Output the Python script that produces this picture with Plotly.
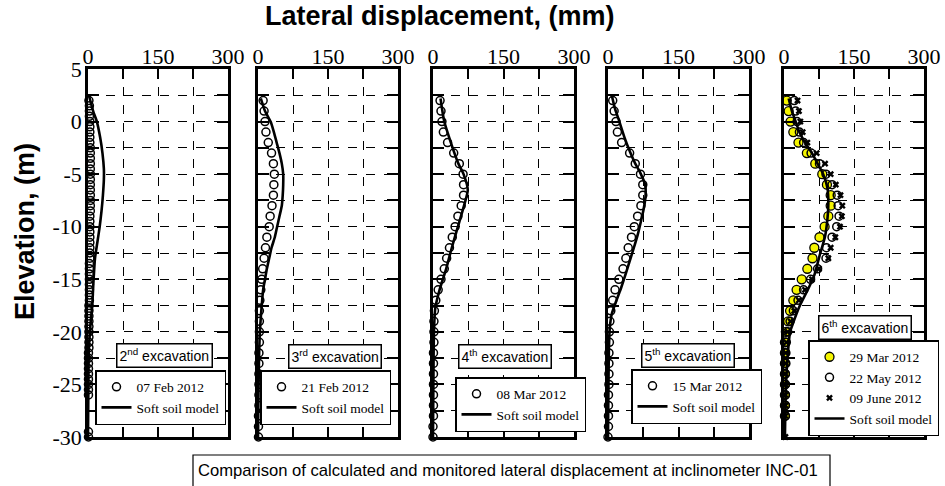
import plotly.graph_objects as go

W, H = 945, 486

# ---------------- tick labels ----------------
X_MAJOR = [0, 150, 300]
X_MAJOR_TEXT = ["0", "150", "300"]
X_MINOR = [75, 225]
Y_MAJOR = [5, 0, -5, -10, -15, -20, -25, -30]
Y_MAJOR_TEXT = ["5", "0", "-5", "-10", "-15", "-20", "-25", "-30"]
Y_MINOR = [2.5, -2.5, -7.5, -12.5, -17.5, -22.5, -27.5]

# ---------------- data ----------------
# 1 m spaced inclinometer depths (m)
elev_1m = [2, 1, 0, -1, -2, -3, -4, -5, -6, -7, -8, -9, -10, -11, -12, -13, -14,
           -15, -16, -17, -18, -19, -20, -21, -22, -23, -24, -25, -26, -27, -28, -29, -30]

# Panel 1: 2nd excavation (07 Feb 2012)
p1_elev = [2.0, 1.5, 1.0, 0.5, 0.0, -0.5, -1.0, -1.5, -2.0, -2.5,
           -3.0, -3.5, -4.0, -4.5, -5.0, -5.5, -6.0, -6.5, -7.0, -7.5,
           -8.0, -8.5, -9.0, -9.5, -10.0, -10.5, -11.0, -11.5, -12.0, -12.5,
           -13.0, -13.5, -14.0, -14.5, -15.0, -15.5, -16.0, -16.5, -17.0, -17.5,
           -18.0, -18.5, -19.0, -19.5, -20.0, -20.5, -21.0, -21.5, -22.0, -22.5,
           -23.0, -23.5, -24.0, -24.5, -25.0, -25.5, -26.0,
           -29.5, -30.0]
p1_meas = [2, 3, 3, 3, 4, 4, 4, 4, 4, 5,
           5, 5, 5, 5, 5, 5, 5, 5, 5, 5,
           5, 5, 4, 4, 4, 4, 4, 4, 4, 4,
           4, 3, 3, 3, 3, 3, 3, 3, 3, 2,
           2, 2, 2, 2, 2, 2, 2, 2, 1, 1,
           1, 1, 1, 1, 1, 1, 1,
           1, 1]
p1_model_elev = [2.5, 1.0, 0.0, -1.5, -3.0, -4.5, -5.5, -7.0, -8.5, -10.0, -11.5,
                 -13.0, -15.0, -17.5, -19.5, -21.5, -24.0, -30.0]
p1_model = [2, 11, 19, 26, 31, 34, 34, 32, 29, 25, 20, 15, 12, 9, 5, 2, 1, 0]

# Panel 2: 3rd excavation (21 Feb 2012)
p2_meas = [11, 13, 15, 17, 22, 29, 33, 35, 34, 33, 30, 26, 24, 19, 16, 13, 10,
           8, 6, 4, 3, 3, 3, 3, 2, 2, 2, 2, 2, 2, 1, 1, 1]
p2_model_elev = [2.2, 1, 0, -1, -2, -3, -4, -5, -6, -7, -8, -9, -10, -11, -12, -13,
                 -14, -15, -16, -17.5, -20, -23, -26, -30]
p2_model = [6, 15, 27, 34, 40, 46, 51, 54, 54, 53, 51, 46, 41, 36, 29, 24,
            19, 15, 11, 8, 4, 2, 1, 0]

# Panel 3: 4th excavation (08 Mar 2012)
p3_meas = [15, 17, 19, 22, 31, 44, 56, 64, 65, 65, 60, 53, 47, 41, 35, 29, 24,
           17, 11, 6, 3, 2, 2, 2, 1, 1, 1, 1, 1, 1, 1, 0, 0]
p3_model_elev = [2.2, 0, -2, -4, -5, -6.5, -8, -10, -12, -14, -16, -17.7, -20, -24, -30]
p3_model = [16, 24, 38, 54, 65, 74, 66, 53, 40, 28, 14, 5, 2, 1, 0]

# Panel 4: 5th excavation (15 Mar 2012)
p4_meas = [10, 13, 17, 20, 29, 46, 58, 69, 74, 74, 70, 63, 56, 50, 43, 38, 32,
           23, 15, 10, 6, 4, 3, 3, 2, 2, 2, 2, 1, 1, 1, 1, 0]
p4_model_elev = [2.5, 1.2, 0.3, -1.5, -2.9, -4, -4.9, -6, -7, -8.3, -9.5, -10.8,
                 -12, -13, -14.3, -15.8, -17, -18.3, -19.5, -21.5, -25, -30]
p4_model = [8, 15, 22, 35, 47, 58, 69, 79, 80, 76, 70, 63, 55, 48, 39, 28, 18, 8, 4, 2, 1, 0]

# Panel 5: 6th excavation
p5_elev = [2, 1, 0, -1, -2, -3, -4, -5, -6, -7, -8, -9, -10, -11, -12, -13, -14,
           -15, -16, -17, -18, -19, -20, -21, -22, -23, -24, -25, -26, -27, -28]
p5_mar29 = [6, 10, 14, 20, 31, 49, 67, 82, 92, 100, 100, 95, 87, 76, 65, 61, 50,
            38, 27, 20, 13, 9, 4, 2, 2, 2, 2, 2, 2, 2, 2]
p5_may22 = [22, 25, 28, 33, 42, 58, 76, 90, 103, 114, 116, 118, 113, 103, 91, 90, 72,
            57, 42, 30, 20, 13, 8, 5, 4, 4, 3, 3, 3, 3, 3]
p5_jun09_elev = [2, 1, 0, -1, -2, -3, -4, -5, -6, -7, -8, -9, -10, -11, -12, -13, -14,
                 -15, -16, -17, -18, -19, -20, -21, -22, -23, -24, -25, -26, -27, -28, -30]
p5_jun09 = [29, 32, 35, 40, 50, 70, 88, 100, 111, 121, 125, 124, 120, 110, 100, 95, 75,
            60, 45, 32, 22, 14, 8, 5, 4, 4, 3, 3, 3, 3, 3, 3]
p5_model_elev = [2.2, 1, 0, -1, -2, -3, -4, -5, -6.3, -7.8, -9.3, -10.9, -12.8, -14.6,
                 -15.9, -17.5, -19.1, -20, -22.2, -25.3, -30]
p5_model = [10, 17, 25, 33, 45, 60, 72, 84, 93, 95, 93, 88, 76, 65, 52, 34, 20, 13, 8, 4, 2]

# ---------------- layout helpers ----------------
def px(x):
    return x / W


def py(y):
    return 1 - y / H


panel_px = [(88, 228), (258, 398), (433, 574), (608, 749), (784, 924)]
y_dom = [py(437), py(69)]

SERIF = "Liberation Serif, Times New Roman, serif"
SANS = "Liberation Sans, Arial, sans-serif"

fig = go.Figure()

legend_names = ["legend", "legend2", "legend3", "legend4", "legend5"]


def ax(i):
    return ("x", "y") if i == 0 else (f"x{i+1}", f"y{i+1}")


def add_meas(i, x, y, name, symbol, color, size=8, lw=1.5, lcolor="black"):
    xa, ya = ax(i)
    fig.add_trace(go.Scatter(
        x=x, y=y, mode="markers", name=name, xaxis=xa, yaxis=ya,
        legend=legend_names[i], cliponaxis=False,
        marker=dict(symbol=symbol, size=size, color=color,
                    line=dict(width=lw, color=lcolor))))


def add_model(i, x, y):
    xa, ya = ax(i)
    fig.add_trace(go.Scatter(
        x=x, y=y, mode="lines", name="Soft soil model", xaxis=xa, yaxis=ya,
        legend=legend_names[i], cliponaxis=False,
        line=dict(color="black", width=2.6, shape="spline", smoothing=0.6)))


add_meas(0, p1_meas, p1_elev, "07 Feb 2012", "circle-open", "black")
add_model(0, p1_model, p1_model_elev)
add_meas(1, p2_meas, elev_1m, "21 Feb 2012", "circle-open", "black")
add_model(1, p2_model, p2_model_elev)
add_meas(2, p3_meas, elev_1m, "08 Mar 2012", "circle-open", "black")
add_model(2, p3_model, p3_model_elev)
add_meas(3, p4_meas, elev_1m, "15 Mar 2012", "circle-open", "black")
add_model(3, p4_model, p4_model_elev)
add_meas(4, p5_mar29, p5_elev, "29 Mar 2012", "circle", "#F5F500", size=9, lw=1.3)
add_meas(4, p5_may22, p5_elev, "22 May 2012", "circle-open", "black")
add_meas(4, p5_jun09, p5_jun09_elev, "09 June 2012", "x", "black", size=6, lw=0)
add_model(4, p5_model, p5_model_elev)

layout = dict(
    width=W, height=H,
    margin=dict(l=0, r=0, t=0, b=0, autoexpand=False),
    paper_bgcolor="white", plot_bgcolor="white",
    font=dict(family=SERIF, color="black", size=14),
    showlegend=True,
)

grid_common = dict(showgrid=True, gridcolor="black", gridwidth=1, griddash="dash")

for i, (a, b) in enumerate(panel_px):
    sx = "" if i == 0 else str(i + 1)
    layout[f"xaxis{sx}"] = dict(
        domain=[px(a), px(b)], anchor=f"y{sx}", range=[0, 300], side="top",
        tickmode="array", tickvals=X_MAJOR, ticktext=X_MAJOR_TEXT,
        ticks="inside", ticklen=10, tickwidth=2, tickcolor="black",
        minor=dict(tickvals=X_MINOR, ticks="inside", ticklen=10, tickwidth=2,
                   tickcolor="black", **grid_common),
        showline=True, linewidth=2.5, linecolor="black", mirror="allticks",
        zeroline=False, automargin=False, ticklabelstandoff=-7,
        tickfont=dict(family=SERIF, size=22, color="black"), fixedrange=True,
        **grid_common)
    layout[f"yaxis{sx}"] = dict(
        domain=y_dom, anchor=f"x{sx}", range=[-30, 5],
        tickmode="array", tickvals=Y_MAJOR, ticktext=Y_MAJOR_TEXT,
        ticks="inside", ticklen=11, tickwidth=2, tickcolor="black",
        minor=dict(tickvals=Y_MINOR, ticks="inside", ticklen=11, tickwidth=2,
                   tickcolor="black", **grid_common),
        showline=True, linewidth=2.5, linecolor="black", mirror="allticks",
        zeroline=False, automargin=False, showticklabels=(i == 0),
        ticklabelstandoff=-1,
        tickfont=dict(family=SERIF, size=22, color="black"), fixedrange=True,
        **grid_common)

leg_pos = [(95, 370), (260, 370), (455, 377), (631, 369), (808, 340)]
for name, (lx, ly) in zip(legend_names, leg_pos):
    layout[name] = dict(
        x=px(lx), y=py(ly), xanchor="left", yanchor="top",
        bgcolor="white", bordercolor="black", borderwidth=1.5,
        font=dict(family=SERIF, size=13.5, color="black"),
        tracegroupgap=0, itemclick=False, itemdoubleclick=False)

fig.update_layout(**layout)

# excavation labels
exc = [("2<sup>nd</sup> excavation", 164, 355), ("3<sup>rd</sup> excavation", 335, 356),
       ("4<sup>th</sup> excavation", 505, 356), ("5<sup>th</sup> excavation", 688, 355),
       ("6<sup>th</sup> excavation", 865, 327)]
for txt, cx, cy in exc:
    fig.add_annotation(text=txt, x=px(cx), y=py(cy), xref="paper", yref="paper",
                       showarrow=False, xanchor="center", yanchor="middle",
                       font=dict(family=SANS, size=14, color="black"),
                       bgcolor="white", bordercolor="black", borderwidth=1.5, borderpad=2)

# titles
fig.add_annotation(text="<b>Lateral displacement, (mm)</b>", x=px(440), y=py(16),
                   xref="paper", yref="paper", showarrow=False,
                   xanchor="center", yanchor="middle",
                   font=dict(family=SANS, size=27, color="black"))
fig.add_annotation(text="<b>Elevation, (m)</b>", x=px(25), y=py(232),
                   xref="paper", yref="paper", showarrow=False, textangle=-90,
                   xanchor="center", yanchor="middle",
                   font=dict(family=SANS, size=27, color="black"))

# caption box
fig.add_shape(type="rect", xref="paper", yref="paper",
              x0=px(193), x1=px(830), y0=py(495), y1=py(455),
              line=dict(color="black", width=1.2), fillcolor="white", layer="above")
fig.add_annotation(text="Comparison of calculated and monitored lateral displacement at inclinometer INC-01",
                   x=px(196), y=py(470), xref="paper", yref="paper", showarrow=False,
                   xanchor="left", yanchor="middle",
                   font=dict(family=SANS, size=16.6, color="black"))

fig.write_html("out.html", config={"displayModeBar": False},
               post_script="document.body.style.margin='0';document.body.style.overflow='hidden';")
